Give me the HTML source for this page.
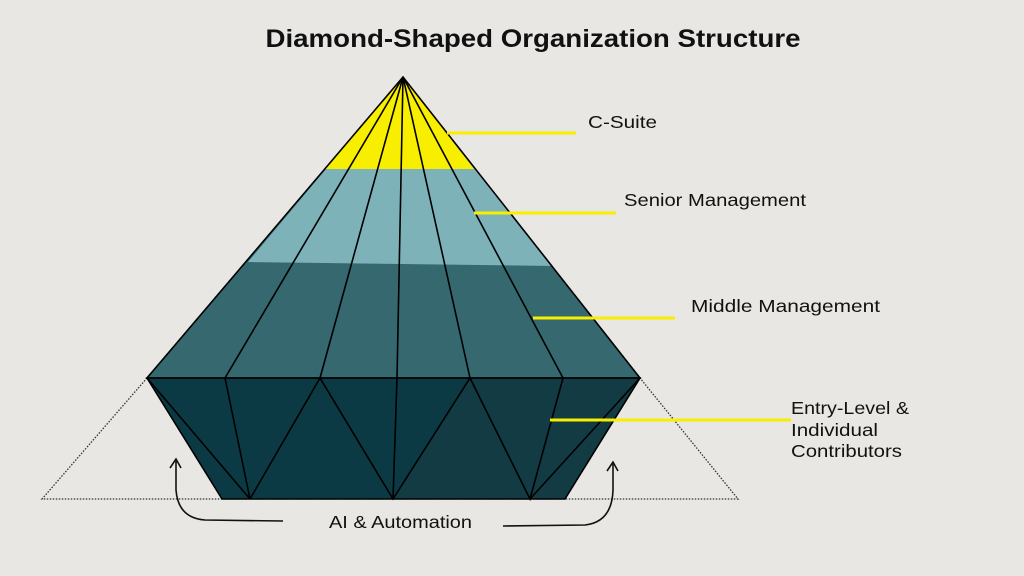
<!DOCTYPE html>
<html><head><style>html,body{margin:0;padding:0;background:#e8e7e3;}svg{display:block}</style></head>
<body>
<svg width="1024" height="576" viewBox="0 0 1024 576" xmlns="http://www.w3.org/2000/svg" font-family="Liberation Sans, sans-serif">
<rect width="1024" height="576" fill="#e8e7e3"/>
<text x="533" y="47" text-anchor="middle" font-size="25" font-weight="bold" fill="#111" textLength="535" lengthAdjust="spacingAndGlyphs">Diamond-Shaped Organization Structure</text>
<polyline points="147,378 42,499 738,499 640,378" fill="none" stroke="#333" stroke-width="1.3" stroke-dasharray="1.5,1.5"/>
<polygon points="403,77 147,378 640,378" fill="#366870"/>
<polygon points="403,77 248,262 553,266" fill="#7db2b9"/>
<polygon points="403,77 324,169 474,169" fill="#f8ee00"/>
<polygon points="147,378 640,378 565,499 222,499" fill="#0c3a44"/>
<polygon points="470,378 640,378 565,499 393,499" fill="#133b43"/>
<g stroke="#000" stroke-width="1.6" fill="none">
<polygon points="403,77 147,378 640,378"/>
<line x1="403" y1="77" x2="225" y2="378"/>
<line x1="403" y1="77" x2="320" y2="378"/>
<line x1="403" y1="77" x2="397" y2="378"/>
<line x1="403" y1="77" x2="470" y2="378"/>
<line x1="403" y1="77" x2="563" y2="378"/>
<polygon points="147,378 640,378 565,499 222,499"/>
<polyline points="147,378 250,499 225,378"/>
<polyline points="250,499 320,378 393,499 470,378 530,499 563,378"/>
<line x1="397" y1="378" x2="393" y2="499"/>
<line x1="640" y1="378" x2="530" y2="499"/>
</g>
<g stroke="#f8ee00" stroke-width="3">
<line x1="447" y1="133" x2="576" y2="133"/>
<line x1="474" y1="213" x2="616" y2="213"/>
<line x1="533" y1="318" x2="675" y2="318"/>
<line x1="550" y1="420" x2="791" y2="420"/>
</g>
<g font-size="17.5" fill="#111" lengthAdjust="spacingAndGlyphs">
<text x="588" y="128" textLength="69" lengthAdjust="spacingAndGlyphs">C-Suite</text>
<text x="624" y="206" textLength="182" lengthAdjust="spacingAndGlyphs">Senior Management</text>
<text x="691" y="312" textLength="189" lengthAdjust="spacingAndGlyphs">Middle Management</text>
<text x="791" y="414" textLength="118" lengthAdjust="spacingAndGlyphs">Entry-Level &amp;</text>
<text x="791" y="436" textLength="87" lengthAdjust="spacingAndGlyphs">Individual</text>
<text x="791" y="457" textLength="111" lengthAdjust="spacingAndGlyphs">Contributors</text>
<text x="329" y="528" textLength="143" lengthAdjust="spacingAndGlyphs">AI &amp; Automation</text>
</g>
<g stroke="#111" stroke-width="1.6" fill="none">
<path d="M283,521 L205,520 Q178,518 176,490 L176,460"/>
<path d="M170,468 L176,459 L181,468"/>
<path d="M503,526 L585,525 Q612,522 613,490 L613,463"/>
<path d="M607,471 L613,462 L618,471"/>
</g>
</svg>
</body></html>
